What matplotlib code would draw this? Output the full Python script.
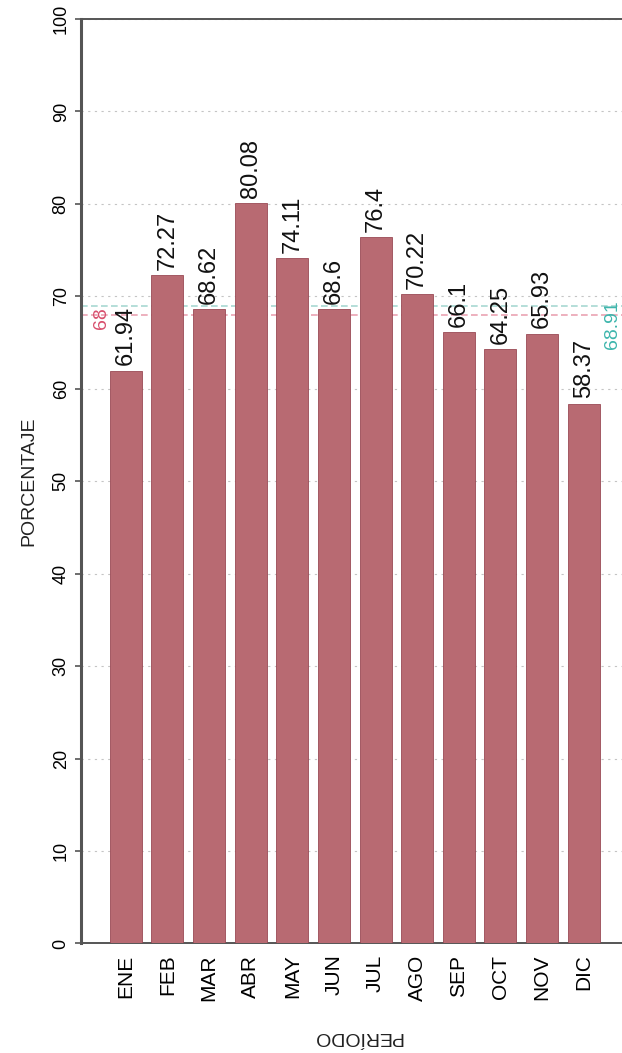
import numpy as np
import matplotlib.pyplot as plt

plt.rcParams['font.family'] = ['Liberation Sans', 'DejaVu Sans']

meses = ["ENE", "FEB", "MAR", "ABR", "MAY", "JUN",
         "JUL", "AGO", "SEP", "OCT", "NOV", "DIC"]
porcentaje = [61.94, 72.27, 68.62, 80.08, 74.11, 68.6,
              76.4, 70.22, 66.1, 64.25, 65.93, 58.37]
meta = 68
promedio = 68.91

fig = plt.figure(figsize=(6.22, 10.53), dpi=100)
ax = fig.add_axes([0.130, 0.104, 0.872, 0.878])

x = np.arange(len(meses))
bars = ax.bar(x, porcentaje, width=0.77, color="#b86a72",
              edgecolor="#9a4a55", linewidth=0.6, zorder=3)

for xi, v in zip(x, porcentaje):
    ax.annotate(f"{v:g}", (xi, v), xytext=(0, 4), textcoords="offset points",
                rotation=90, ha="center", va="bottom", fontsize=17,
                color="#111111", zorder=4)

# lineas de referencia
ax.axhline(meta, color="#eaa3b3", lw=1.2, ls=(0, (4, 2)), zorder=2)
ax.axhline(promedio, color="#a8d8d2", lw=1.2, ls=(0, (4, 2)), zorder=2)
ax.text(-0.58, 67.6, f"{meta:g}", rotation=90, ha="center", va="center",
        fontsize=14, color="#d8506e")
ax.text(11.7, 66.9, f"{promedio:g}", rotation=90, ha="center", va="center",
        fontsize=14, color="#3fb6ad")

ax.set_ylim(0, 100)
ax.set_xlim(-1.08, 11.95)
ax.set_yticks(np.arange(0, 101, 10))
ax.set_yticklabels([str(t) for t in range(0, 101, 10)], rotation=90,
                   va="center", fontsize=13)
ax.set_xticks(x)
ax.set_xticklabels(meses, rotation=90, fontsize=15)
ax.tick_params(axis="x", length=0, pad=8)
ax.tick_params(axis="y", length=4, width=1.2, color="#555555", pad=4)

ax.yaxis.grid(True, color="#c4c4c4", ls=(0, (2, 4)), lw=0.8, zorder=0)

for side in ["left", "bottom", "top"]:
    ax.spines[side].set_color("#555555")
ax.spines["left"].set_linewidth(2.2)
ax.spines["bottom"].set_linewidth(1.4)
ax.spines["top"].set_linewidth(1.4)
ax.spines["right"].set_visible(False)

fig.text(0.046, 0.543, "PORCENTAJE", rotation=90, ha="center", va="center",
         fontsize=14, color="#222222")
fig.text(0.574, 0.016, "PERÍODO", rotation=180, ha="center", va="center",
         fontsize=14, color="#222222")

fig.savefig("out.png", dpi=100)
